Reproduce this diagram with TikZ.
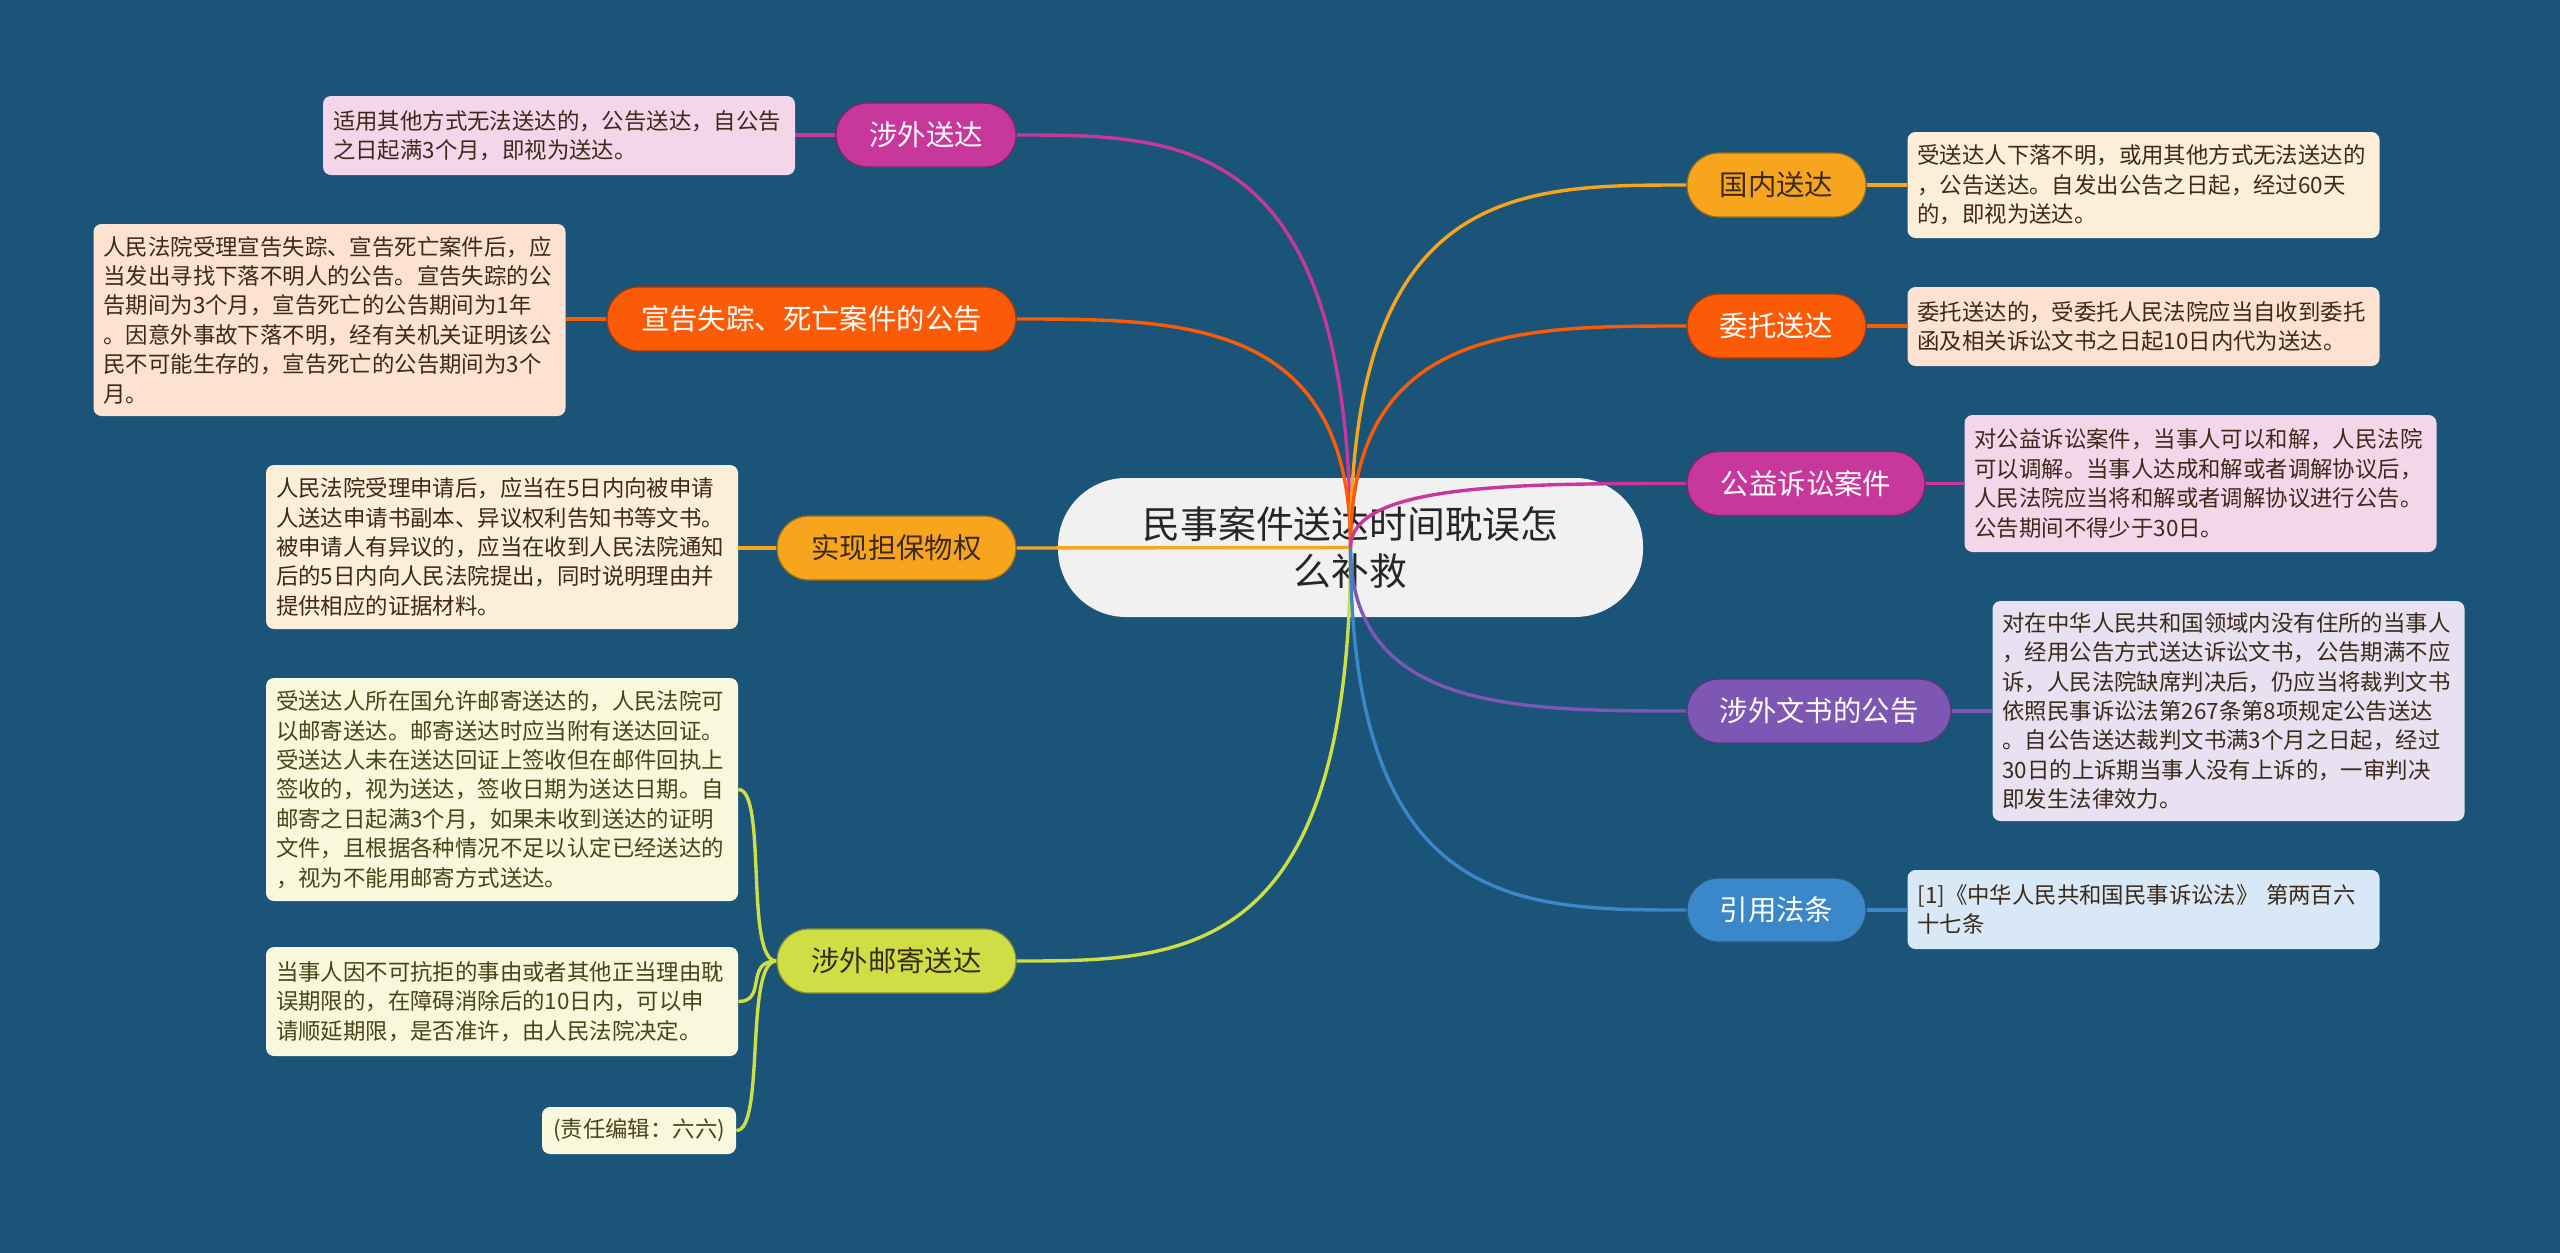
\documentclass[tikz,border=0pt]{standalone}
\usepackage{fontspec}
\setmainfont{Noto Sans CJK SC}
\usetikzlibrary{calc}
\pgfdeclarelayer{back}
\pgfdeclarelayer{mid}
\pgfsetlayers{back,mid,main}
\definecolor{bg}{HTML}{1A5478}
\definecolor{cMag}{HTML}{C8379C}
\definecolor{cRed}{HTML}{FB5A06}
\definecolor{cYel}{HTML}{F8A51E}
\definecolor{cGrn}{HTML}{D0DE46}
\definecolor{cPur}{HTML}{7E57B5}
\definecolor{cBlu}{HTML}{3A88C9}
\definecolor{fMag}{HTML}{F4D6EB}
\definecolor{fRed}{HTML}{FDE2D2}
\definecolor{fYel}{HTML}{FDEFD7}
\definecolor{fGrn}{HTML}{F7F8DC}
\definecolor{fPur}{HTML}{E8E1F1}
\definecolor{fBlu}{HTML}{D8E8F6}
\definecolor{tDark}{HTML}{3B2A18}
\definecolor{tOlive}{HTML}{4A4418}
\definecolor{rootfill}{HTML}{F1F1F1}
\tikzset{
  pill/.style={rounded corners=16pt, minimum height=32pt, inner sep=0pt,
    font=\fontsize{14.2pt}{16pt}\selectfont, line width=0.6pt},
  pillc/.style 2 args={pill, fill=#1, draw=#1!65!black, text=#2},
  detail/.style={rounded corners=4pt, inner xsep=5pt, inner ysep=0pt, align=left,
    text width=226pt, font=\fontsize{11.2pt}{14.7pt}\selectfont},
  link/.style={line width=1.7pt, #1},
}
\newcommand\rootlink[2]{\draw[link=#1] (root.center) .. controls (root.center |- #2) and ($(root.center |- #2)!0.5!(#2)$) .. (#2);}
\begin{document}
\begin{tikzpicture}[x=0.5pt,y=-0.5pt]
\useasboundingbox (0,0) rectangle (2560,1253);
\begin{pgfonlayer}{back}
\fill[bg] (0,0) rectangle (2560,1253);
\node[fill=rootfill, rounded corners=34pt, minimum width=292.5pt, minimum height=69.5pt,
  inner sep=0pt, align=center, text=black!85, font=\fontsize{18.9pt}{23.7pt}\selectfont]
  (root) at (1350.5,547.5) {民事案件送达时间耽误怎\\么补救};
\end{pgfonlayer}

% main topics
\node[pillc={cMag}{white}, minimum width=90pt] (p1) at (926,135) {涉外送达};
\node[pillc={cRed}{white}, minimum width=204.5pt] (p2) at (811.5,319) {宣告失踪、死亡案件的公告};
\node[pillc={cYel}{tDark}, minimum width=119.5pt] (p3) at (896.5,548) {实现担保物权};
\node[pillc={cGrn}{tDark}, minimum width=119.5pt] (p4) at (896.5,961) {涉外邮寄送达};
\node[pillc={cYel}{tDark}, minimum width=89.5pt] (q1) at (1776.5,185) {国内送达};
\node[pillc={cRed}{white}, minimum width=89.5pt] (q2) at (1776.5,326) {委托送达};
\node[pillc={cMag}{white}, minimum width=119pt] (q3) at (1806,483.5) {公益诉讼案件};
\node[pillc={cPur}{white}, minimum width=132pt] (q4) at (1819,711) {涉外文书的公告};
\node[pillc={cBlu}{white}, minimum width=89.5pt] (q5) at (1776.5,910) {引用法条};

% details
\node[detail, fill=fMag, text=tDark, minimum height=39.5pt] (d1) at (559,135.5)
 {适用其他方式无法送达的，公告送达，自公告\\之日起满3个月，即视为送达。};
\node[detail, fill=fRed, text=tDark, minimum height=96pt] (d2) at (329.5,320)
 {人民法院受理宣告失踪、宣告死亡案件后，应\\当发出寻找下落不明人的公告。宣告失踪的公\\告期间为3个月，宣告死亡的公告期间为1年\\。因意外事故下落不明，经有关机关证明该公\\民不可能生存的，宣告死亡的公告期间为3个\\月。};
\node[detail, fill=fYel, text=tDark, minimum height=82pt] (d3) at (502,547)
 {人民法院受理申请后，应当在5日内向被申请\\人送达申请书副本、异议权利告知书等文书。\\被申请人有异议的，应当在收到人民法院通知\\后的5日内向人民法院提出，同时说明理由并\\提供相应的证据材料。};
\node[detail, fill=fGrn, text=tOlive, minimum height=111.5pt] (d4a) at (502,789.5)
 {受送达人所在国允许邮寄送达的，人民法院可\\以邮寄送达。邮寄送达时应当附有送达回证。\\受送达人未在送达回证上签收但在邮件回执上\\签收的，视为送达，签收日期为送达日期。自\\邮寄之日起满3个月，如果未收到送达的证明\\文件，且根据各种情况不足以认定已经送达的\\，视为不能用邮寄方式送达。};
\node[detail, fill=fGrn, text=tOlive, minimum height=54.5pt] (d4b) at (502,1001.5)
 {当事人因不可抗拒的事由或者其他正当理由耽\\误期限的，在障碍消除后的10日内，可以申\\请顺延期限，是否准许，由人民法院决定。};
\node[rounded corners=4pt, inner sep=0pt, fill=fGrn, text=tOlive, minimum width=97pt,
  minimum height=23.5pt, font=\fontsize{11.2pt}{14.7pt}\selectfont] (d4c) at (639,1130.5)
 {(责任编辑：六六)};

\node[detail, fill=fYel, text=tDark, minimum height=53pt] (e1) at (2143.5,185)
 {受送达人下落不明，或用其他方式无法送达的\\，公告送达。自发出公告之日起，经过60天\\的，即视为送达。};
\node[detail, fill=fRed, text=tDark, minimum height=39.5pt] (e2) at (2143.5,326.5)
 {委托送达的，受委托人民法院应当自收到委托\\函及相关诉讼文书之日起10日内代为送达。};
\node[detail, fill=fMag, text=tDark, minimum height=68.5pt] (e3) at (2200.5,483.5)
 {对公益诉讼案件，当事人可以和解，人民法院\\可以调解。当事人达成和解或者调解协议后，\\人民法院应当将和解或者调解协议进行公告。\\公告期间不得少于30日。};
\node[detail, fill=fPur, text=tDark, minimum height=110pt] (e4) at (2228.5,711)
 {对在中华人民共和国领域内没有住所的当事人\\，经用公告方式送达诉讼文书，公告期满不应\\诉，人民法院缺席判决后，仍应当将裁判文书\\依照民事诉讼法第267条第8项规定公告送达\\。自公告送达裁判文书满3个月之日起，经过\\30日的上诉期当事人没有上诉的，一审判决\\即发生法律效力。};
\node[detail, fill=fBlu, text=tDark, minimum height=39.5pt] (e5) at (2143.5,909.5)
 {[1]《中华人民共和国民事诉讼法》 第两百六\\十七条};

\begin{pgfonlayer}{mid}
% root connectors (over root, under topics)
\rootlink{cMag}{p1.east}
\rootlink{cRed}{p2.east}
\draw[link=cYel] (root.center) -- (p3.east);
\rootlink{cGrn}{p4.east}
\rootlink{cYel}{q1.west}
\rootlink{cRed}{q2.west}
\rootlink{cMag}{q3.west}
\rootlink{cPur}{q4.west}
\rootlink{cBlu}{q5.west}
% topic -> detail connectors
\draw[link=cMag] (p1.west) -- (p1.west -| d1.east);
\draw[link=cRed] (p2.west) -- (p2.west -| d2.east);
\draw[link=cYel] (p3.west) -- (p3.west -| d3.east);
\draw[link=cGrn] (p4.west) .. controls ([xshift=-16pt]p4.west) and ([xshift=14.5pt]d4a.east) .. (d4a.east);
\draw[link=cGrn] (p4.west) .. controls ([xshift=-16pt]p4.west) and ([xshift=14.5pt]d4b.east) .. (d4b.east);
\draw[link=cGrn] (p4.west) .. controls ([xshift=-16pt]p4.west) and ([xshift=14.5pt]d4c.east) .. (d4c.east);
\draw[link=cYel] (q1.east) -- (q1.east -| e1.west);
\draw[link=cRed] (q2.east) -- (q2.east -| e2.west);
\draw[link=cMag] (q3.east) -- (q3.east -| e3.west);
\draw[link=cPur] (q4.east) -- (q4.east -| e4.west);
\draw[link=cBlu] (q5.east) -- (q5.east -| e5.west);
\end{pgfonlayer}
\end{tikzpicture}
\end{document}
